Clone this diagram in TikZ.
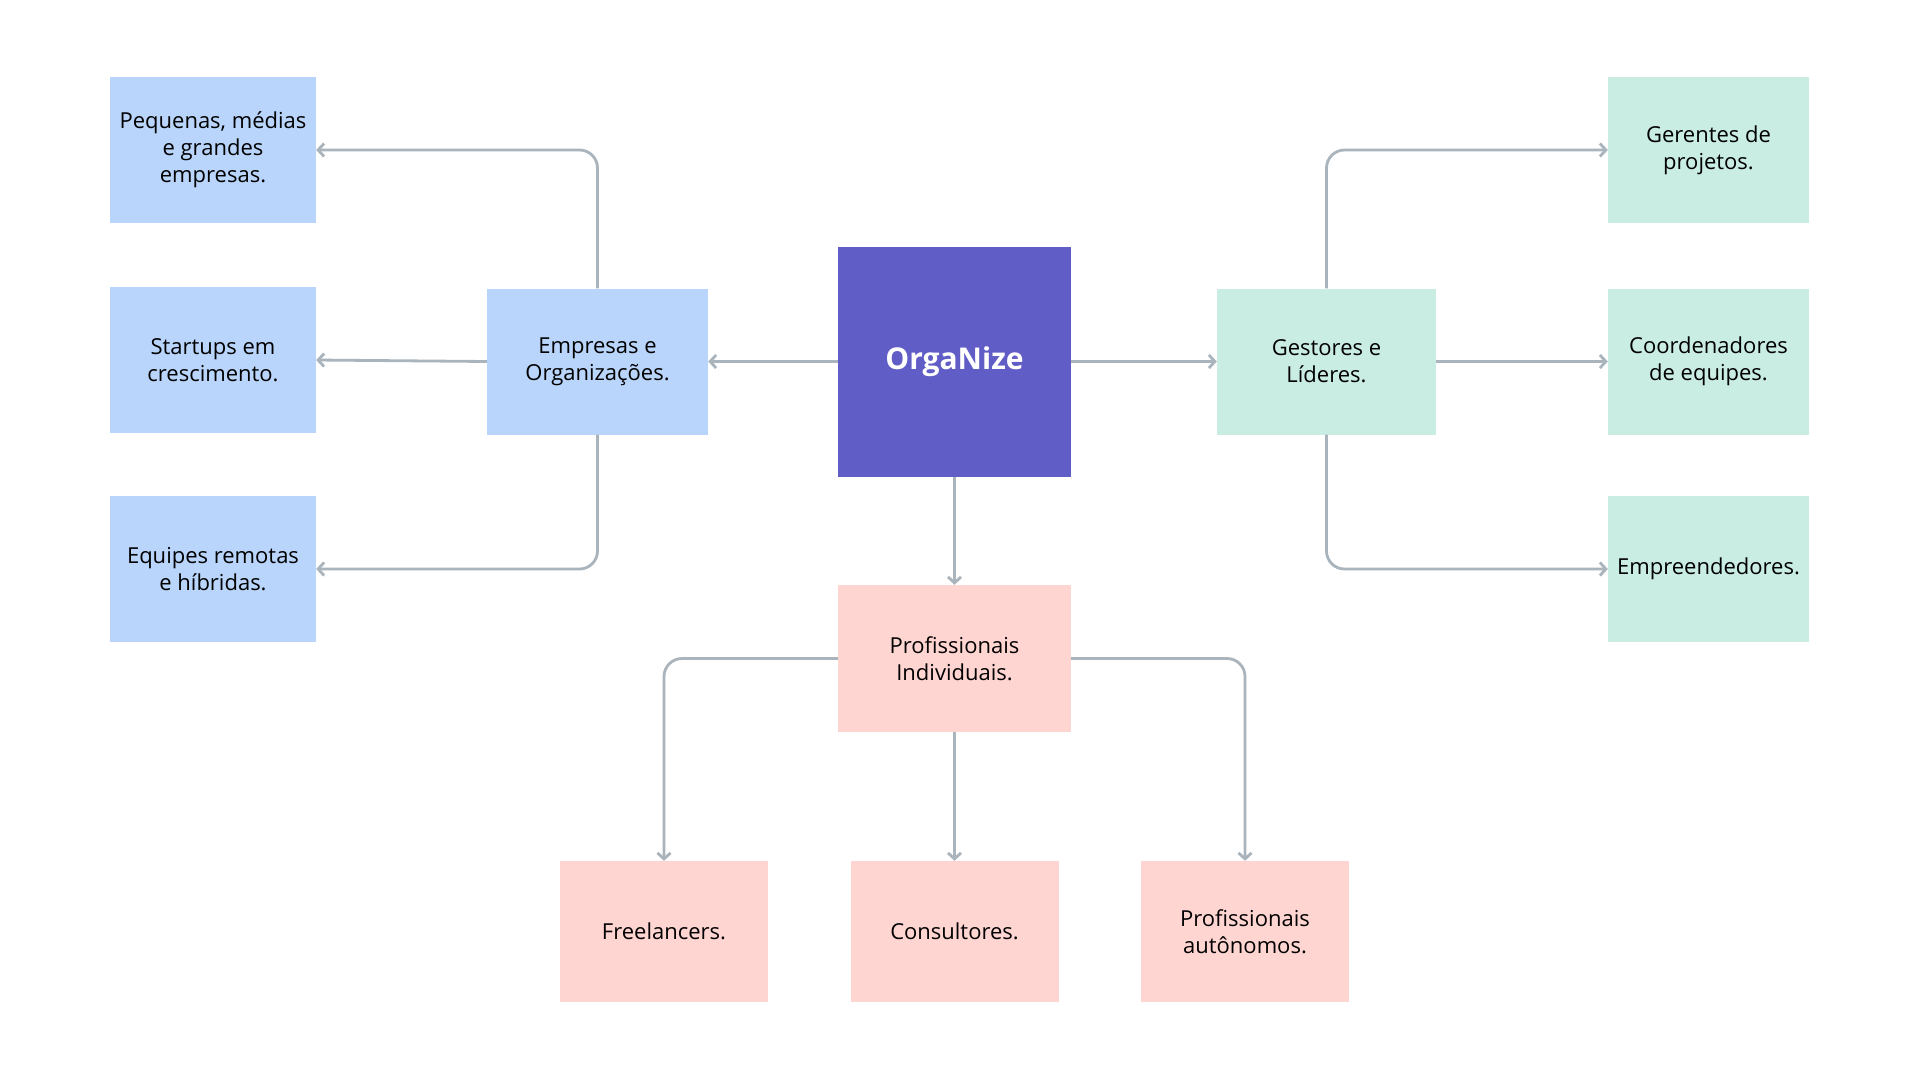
\documentclass[tikz,border=0pt]{standalone}
\usepackage{fontspec}
\setmainfont{Open Sans}
\usetikzlibrary{arrows.meta}
\definecolor{cblue}{HTML}{B9D5FB}
\definecolor{cmain}{HTML}{615DC6}
\definecolor{cgreen}{HTML}{C9ECE3}
\definecolor{cpink}{HTML}{FFD5D2}
\definecolor{cline}{HTML}{AAB4BC}
\tikzset{
  box/.style={inner sep=0pt, align=center, font=\fontsize{22}{27}\selectfont, text=black},
  bluebox/.style={box, fill=cblue, minimum width=206pt, minimum height=146pt},
  midblue/.style={box, fill=cblue, minimum width=221pt, minimum height=146pt},
  greenbox/.style={box, fill=cgreen, minimum width=201pt, minimum height=146pt},
  midgreen/.style={box, fill=cgreen, minimum width=219pt, minimum height=146pt},
  pinkbox/.style={box, fill=cpink, minimum width=208pt, minimum height=141pt},
  midpink/.style={box, fill=cpink, minimum width=233pt, minimum height=147pt},
  conn/.style={draw=cline, line width=2.8pt, rounded corners=18pt, -{Straight Barb[length=6pt,width=13pt]}},
}
\begin{document}
\begin{tikzpicture}[x=1pt,y=-1pt]
\useasboundingbox (0,0) rectangle (1920,1080);
\fill[white] (0,0) rectangle (1920,1080);
% left
\node[bluebox] (peq) at (213,150) {Pequenas, médias\\e grandes\\empresas.};
\node[bluebox] (st) at (213,360) {Startups em\\crescimento.};
\node[bluebox] (eq) at (213,569) {Equipes remotas\\e híbridas.};
\node[midblue] (emp) at (597.5,361.5) {Empresas e\\Organizações.};
% center
\node[box, fill=cmain, minimum width=233pt, minimum height=230pt, text=white, font=\fontsize{30}{36}\selectfont\bfseries] (org) at (954.5,361.5) {OrgaNize};
% right
\node[midgreen] (ges) at (1326.5,361.5) {Gestores e\\Líderes.};
\node[greenbox] (ger) at (1708.5,150) {Gerentes de\\projetos.};
\node[greenbox] (coo) at (1708.5,361.5) {Coordenadores\\de equipes.};
\node[greenbox] (emd) at (1708.5,569) {Empreendedores.};
% bottom
\node[midpink] (pro) at (954.5,658.5) {Profissionais\\Individuais.};
\node[pinkbox] (fre) at (664,931.5) {Freelancers.};
\node[pinkbox] (con) at (954.5,931.5) {Consultores.};
\node[pinkbox] (aut) at (1245,931.5) {Profissionais\\autônomos.};
% connectors
\draw[conn] (emp.north) |- (peq.east);
\draw[conn] (emp.west) -- (st.east);
\draw[conn] (emp.south) |- (eq.east);
\draw[conn] (org.west) -- (emp.east);
\draw[conn] (org.east) -- (ges.west);
\draw[conn] (org.south) -- (pro.north);
\draw[conn] (ges.north) |- (ger.west);
\draw[conn] (ges.east) -- (coo.west);
\draw[conn] (ges.south) |- (emd.west);
\draw[conn] (pro.west) -| (fre.north);
\draw[conn] (pro.south) -- (con.north);
\draw[conn] (pro.east) -| (aut.north);
\end{tikzpicture}
\end{document}
